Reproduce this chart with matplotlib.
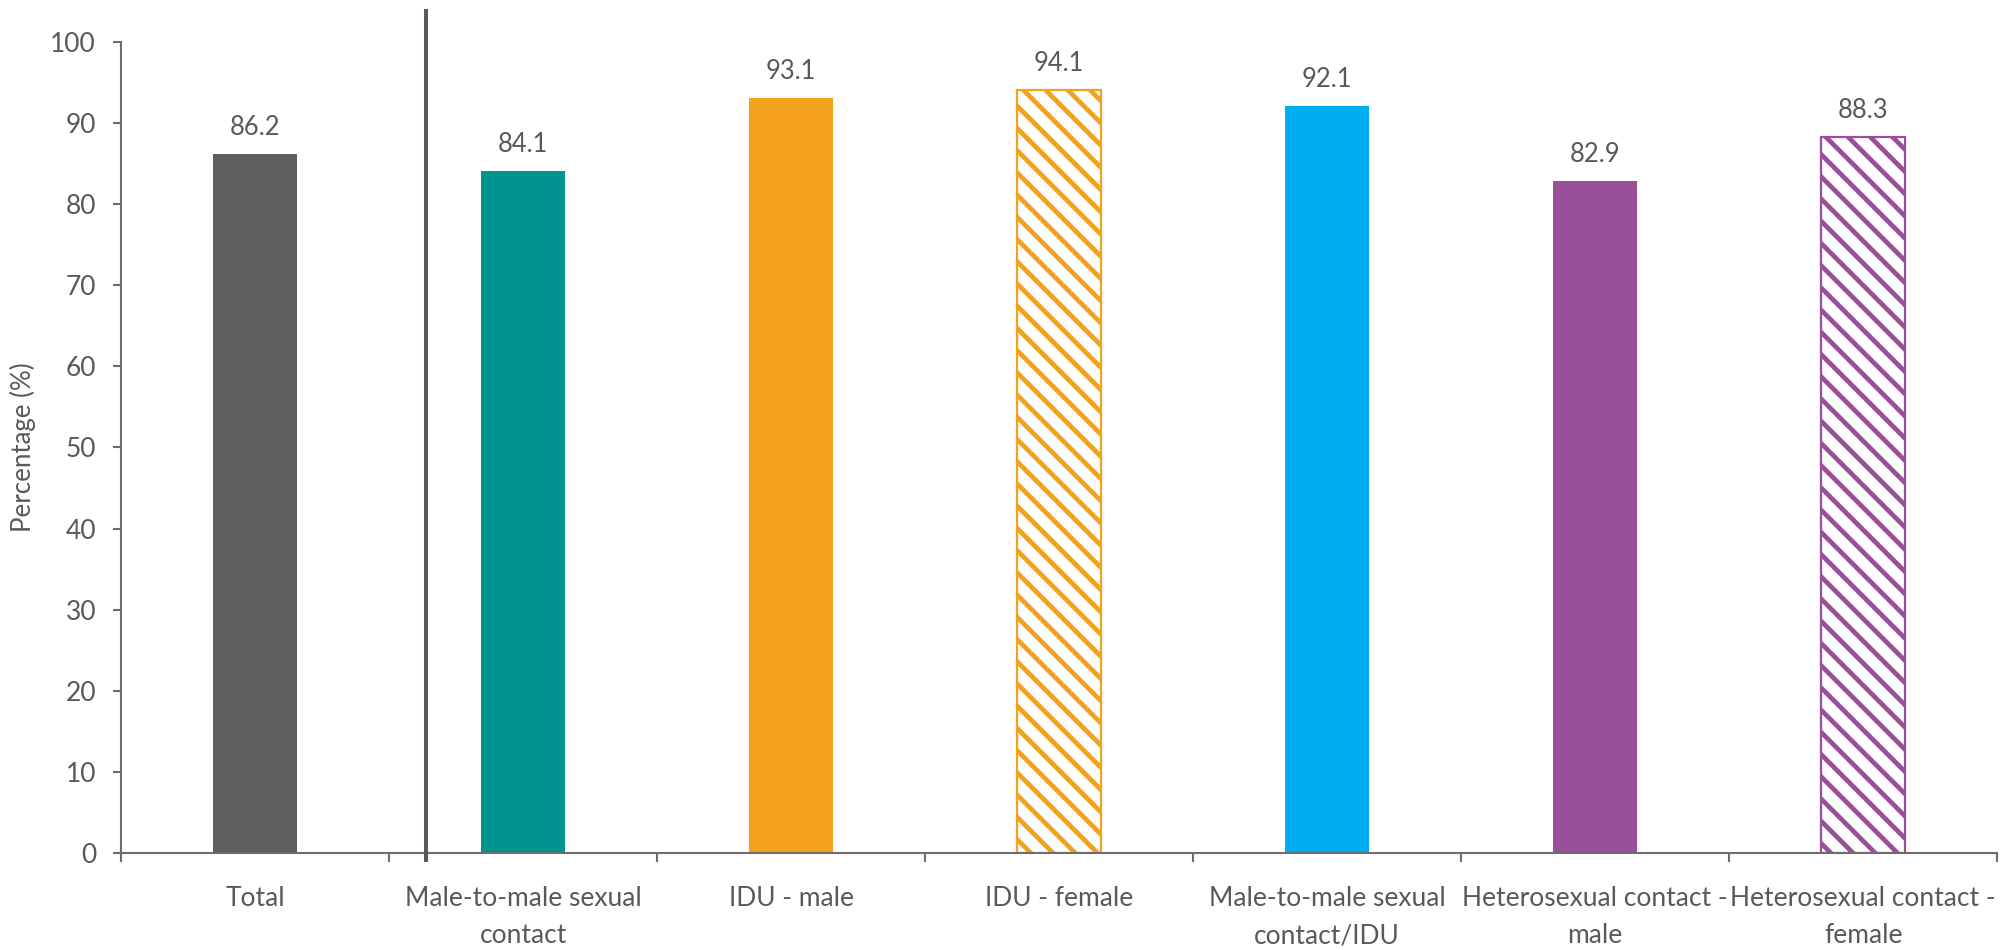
import matplotlib
matplotlib.use('Agg')
import matplotlib.pyplot as plt
import numpy as np

# 数据
categories = ['Total', 'Male-to-male sexual\ncontact', 'IDU - male', 'IDU - female',
              'Male-to-male sexual\ncontact/IDU', 'Heterosexual contact -\nmale',
              'Heterosexual contact -\nfemale']
values = [86.2, 84.1, 93.1, 94.1, 92.1, 82.9, 88.3]
bar_colors = ['#5e5e5e', '#00938f', '#f4a11d', '#f4a11d', '#00aeef', '#9a4f9a', '#9a4f9a']
hatched = [False, False, False, True, False, False, True]
yticks = list(range(0, 101, 10))

plt.rcParams['font.family'] = ['Lato', 'DejaVu Sans']
plt.rcParams['hatch.linewidth'] = 1.7
text_color = '#595959'
axis_color = '#6d6d6d'

fig = plt.figure(figsize=(10.04, 4.75), dpi=200)
ax = fig.add_axes([0.0603, 0.1021, 0.9343, 0.8537])

x = np.arange(len(values))
for i, (v, c, h) in enumerate(zip(values, bar_colors, hatched)):
    if h:
        ax.bar(x[i], v, width=0.315, facecolor='white', edgecolor=c, hatch='\\\\\\', linewidth=0.8)
    else:
        ax.bar(x[i], v, width=0.315, color=c)
    ax.annotate(f'{v:.1f}', (x[i], v), xytext=(0, 5), textcoords='offset points',
                ha='center', va='bottom', fontsize=9.2, color=text_color)

# 分隔线 (Total 与其它类别之间)
ax.plot([0.638, 0.638], [-1.1, 104.1], color='#595959', lw=1.45, clip_on=False,
        solid_capstyle='butt', zorder=5)

ax.set_xlim(-0.5, len(values) - 0.5)
ax.set_ylim(0, 100)
ax.set_yticks(yticks)
ax.set_xticks(x)
ax.set_xticklabels(categories, linespacing=1.6)
ax.set_xticks(np.arange(-0.5, len(values), 1.0), minor=True)

for side in ['top', 'right']:
    ax.spines[side].set_visible(False)
for side in ['left', 'bottom']:
    ax.spines[side].set_color(axis_color)
    ax.spines[side].set_linewidth(0.75)

ax.tick_params(axis='y', length=3, width=0.75, color=axis_color, labelcolor=text_color,
               labelsize=9.5, pad=6)
ax.tick_params(axis='x', which='major', length=0, labelcolor=text_color, labelsize=9.5, pad=12)
ax.tick_params(axis='x', which='minor', length=3.3, width=0.75, color=axis_color)

ax.set_ylabel('Percentage (%)', fontsize=9.3, color=text_color, labelpad=5)

fig.savefig('out.png', dpi=200)
